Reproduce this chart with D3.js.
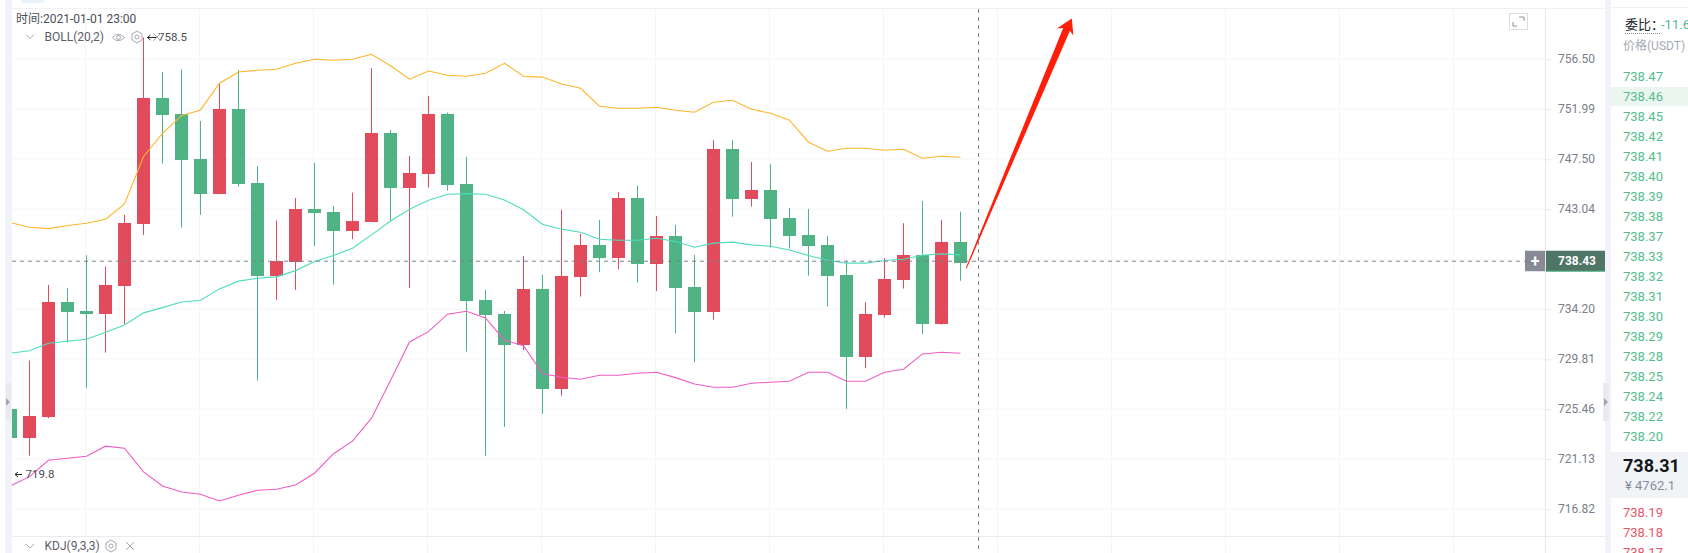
<!DOCTYPE html>
<html><head><meta charset="utf-8">
<style>html,body{margin:0;padding:0;background:#fff;overflow:hidden}svg{display:block}
text{font-family:Roboto,"Noto Sans CJK SC",sans-serif}</style>
<script src="https://cdn.jsdelivr.net/npm/d3@7"></script></head><body>
<svg id="c" width="1688" height="553"></svg>
<script>
const opens=[725.49,722.99,724.82,734.84,734.05,733.81,736.28,741.77,753.01,751.54,747.53,744.43,752.02,745.39,737.16,738.40,743.07,742.80,741.14,741.94,749.86,744.97,746.22,751.57,745.29,735.02,733.79,731.06,735.99,727.25,737.05,739.88,738.75,744.05,738.22,740.67,736.17,733.99,748.42,743.99,744.76,742.27,740.76,739.88,737.23,730.04,733.73,736.81,738.99,732.94,740.14];
const closes=[722.99,724.88,734.84,733.99,733.81,736.34,741.83,753.01,751.51,747.46,744.43,752.02,745.32,737.16,738.46,743.07,742.74,741.14,742.00,749.86,744.97,746.28,751.57,745.23,734.96,733.73,731.09,735.99,727.25,737.14,739.88,738.75,744.05,738.22,740.67,736.11,733.99,748.42,743.99,744.76,742.21,740.70,739.81,737.16,730.04,733.79,736.87,738.99,732.94,740.14,738.31];
const highs=[725.49,729.69,736.34,736.05,738.96,737.96,742.54,758.48,755.35,755.60,750.94,754.34,755.53,746.90,742.03,744.05,747.17,743.33,744.52,755.69,750.13,747.80,753.19,751.69,747.71,735.90,734.05,738.90,737.23,743.00,740.85,742.09,744.56,745.15,742.45,741.65,738.99,749.21,749.23,747.26,747.05,743.16,743.07,740.65,738.49,734.82,738.70,741.80,743.78,742.09,742.83];
const lows=[722.99,721.44,724.68,731.27,727.29,730.39,732.91,740.76,747.11,741.41,742.54,744.43,745.06,727.95,735.02,735.90,739.79,736.37,740.38,741.94,742.00,736.05,744.97,744.70,730.48,721.42,723.93,730.63,725.05,726.64,735.31,737.46,737.73,736.55,735.79,732.09,729.55,733.29,742.38,743.27,739.64,739.55,737.16,734.43,725.49,729.03,733.46,736.02,732.03,732.85,736.70];
const bollUpper=[741.85,741.44,741.32,741.59,741.80,742.15,743.51,747.73,749.82,751.41,751.93,754.34,755.35,755.51,755.60,756.14,756.50,756.41,756.50,756.95,755.92,754.70,755.44,755.06,754.97,755.24,756.14,754.97,754.89,754.27,753.88,752.26,752.08,752.08,752.17,751.90,751.72,752.62,752.80,751.99,751.63,751.00,749.03,748.22,748.49,748.49,748.31,748.40,747.59,747.77,747.68];
const bollMid=[730.34,730.55,731.22,731.39,731.56,732.18,732.82,733.88,734.34,734.84,734.99,735.99,736.67,736.93,737.05,737.60,738.40,738.93,739.58,740.76,742.00,743.04,743.84,744.38,744.43,744.38,743.87,743.00,741.71,741.27,741.00,740.38,740.29,740.29,740.47,740.17,739.67,740.03,740.12,739.88,739.76,739.43,738.93,738.52,738.26,738.26,738.49,738.61,738.96,739.08,738.99];
const bollLower=[718.83,719.63,721.04,721.22,721.39,722.26,722.08,720.04,718.83,718.31,718.11,717.54,718.03,718.46,718.54,718.91,719.92,721.61,722.69,724.68,727.95,731.33,732.23,733.76,734.02,733.44,731.48,731.00,728.56,728.24,728.07,728.42,728.42,728.59,728.68,728.21,727.66,727.37,727.37,727.72,727.81,727.90,728.68,728.68,727.90,727.90,728.68,728.94,730.28,730.42,730.34];
const priceTicks=[756.50,751.99,747.50,743.04,738.61,734.20,729.81,725.46,721.13,716.82];
const crossPrice=738.43, crossIndex=50.95;
const arrowTail=[50.3,737.8], arrowTip=[55.86,760.2];
const bidPrices=["738.47","738.46","738.45","738.42","738.41","738.40","738.39","738.38","738.37","738.33","738.32","738.31","738.30","738.29","738.28","738.25","738.24","738.22","738.20"];
const askPrices=["738.19","738.18","738.17"];

const GREEN="#4fb385",RED="#e24b5c";
const svg=d3.select("#c");
const x=d3.scaleLinear().domain([0,50]).range([10.5,960.5]);
const y=d3.scaleLog().domain([716.82,756.50]).range([509.3,59.3]);
const px=(i)=>x(i);

// background chrome
svg.append("rect").attr("x",5).attr("y",0).attr("width",7).attr("height",553).attr("fill","#f1f3f8");
svg.append("rect").attr("x",1605).attr("y",0).attr("width",6).attr("height",553).attr("fill","#f1f3f8");
svg.append("rect").attr("x",22).attr("y",0).attr("width",22).attr("height",3).attr("fill","#e8f3fb");
svg.append("line").attr("x1",12).attr("x2",1605).attr("y1",8.5).attr("y2",8.5).attr("stroke","#f0f1f4");
svg.append("line").attr("x1",1611).attr("x2",1688).attr("y1",7.5).attr("y2",7.5).attr("stroke","#f0f1f4");

// grid
const vGrid=d3.range(85.5,1546,114);
svg.append("g").selectAll("line").data(vGrid).join("line").attr("x1",d=>d).attr("x2",d=>d).attr("y1",9).attr("y2",553).attr("stroke","#f4f5f7");
svg.append("g").selectAll("line").data(priceTicks).join("line").attr("x1",12).attr("x2",1545).attr("y1",d=>Math.round(y(d))).attr("y2",d=>Math.round(y(d))).attr("stroke","#f4f5f7");
svg.append("line").attr("x1",12).attr("x2",1605).attr("y1",536.5).attr("y2",536.5).attr("stroke","#e8eaed");
svg.append("line").attr("x1",1545.5).attr("x2",1545.5).attr("y1",9).attr("y2",553).attr("stroke","#e6e8ec");

// axis
const ax=svg.append("g").attr("transform","translate(1545.5,0)").call(
  d3.axisRight(y).tickValues(priceTicks).tickSize(6).tickPadding(6.5).tickFormat(d=>d===738.61?"":d.toFixed(2)));
ax.select(".domain").remove();
ax.selectAll("line").attr("stroke","#e6e8ec");
ax.selectAll("text").attr("fill","#7a7e8a").attr("font-size",12).attr("font-family","Roboto").attr("dy","0.27em");

// candles
svg.append("defs").append("clipPath").attr("id","plot").append("rect").attr("x",12).attr("y",9).attr("width",1533).attr("height",527);
const plot=svg.append("g").attr("clip-path","url(#plot)");
const idx=d3.range(opens.length);
const col=i=>closes[i]>=opens[i]?RED:GREEN;
plot.append("g").selectAll("line").data(idx).join("line")
  .attr("x1",px).attr("x2",px).attr("y1",i=>y(highs[i])).attr("y2",i=>y(lows[i]))
  .attr("stroke",col).attr("stroke-width",1);
plot.append("g").selectAll("rect").data(idx).join("rect").attr("shape-rendering","crispEdges")
  .attr("x",i=>px(i)-6.5).attr("width",13)
  .attr("y",i=>y(Math.max(opens[i],closes[i])))
  .attr("height",i=>Math.max(2,Math.abs(y(opens[i])-y(closes[i]))))
  .attr("fill",col);

// bollinger
const ln=d3.line().x((d,i)=>x(i)).y(d=>y(d));
[[bollUpper,"#fdb62a"],[bollMid,"#4fdcbc"],[bollLower,"#ef5cc4"]].forEach(([s,c])=>{
  plot.append("path").attr("d",ln(s)).attr("fill","none").attr("stroke",c).attr("stroke-width",1.1);
});

// crosshair
svg.append("line").attr("x1",12).attr("x2",1525).attr("y1",y(crossPrice)).attr("y2",y(crossPrice)).attr("stroke","#7d828c").attr("stroke-dasharray","4,4");
svg.append("line").attr("x1",x(crossIndex)).attr("x2",x(crossIndex)).attr("y1",9).attr("y2",553).attr("stroke","#6f8294").attr("stroke-dasharray","4,4");
const cy=y(crossPrice);
svg.append("rect").attr("x",1525).attr("y",cy-10.5).attr("width",20).attr("height",20.5).attr("fill","#878a94");
svg.append("text").attr("x",1535).attr("y",cy+.5).attr("text-anchor","middle").attr("dominant-baseline","central").attr("fill","#fff").attr("font-size",16).attr("font-weight",700).text("+");
svg.append("rect").attr("x",1546).attr("y",cy-10.5).attr("width",59).attr("height",20.5).attr("fill","#4f7566");
svg.append("rect").attr("x",1546).attr("y",cy+9.5).attr("width",59).attr("height",1).attr("fill",GREEN);
svg.append("text").attr("x",1558).attr("y",cy).attr("dominant-baseline","central").attr("fill","#fff").attr("font-size",12).attr("font-weight",700).text(crossPrice.toFixed(2));

// red arrow
(function(){
  const tx=x(arrowTail[0]),ty=y(arrowTail[1]),hx=x(arrowTip[0]),hy=y(arrowTip[1]);
  const dx=hx-tx,dy=hy-ty,L=Math.hypot(dx,dy),ux=dx/L,uy=dy/L,nx=-uy,ny=ux;
  const P=(a,b)=>[tx+ux*a+nx*b,ty+uy*a+ny*b];
  const pts=[P(0,-.5),P(L-12,-4.3),P(L-15,-10),P(L,0),P(L-15,8),P(L-12,3),P(0,.5)];
  svg.append("polygon").attr("points",pts.map(p=>p.join(",")).join(" ")).attr("fill","#ff1e0a");
})();

// legend text
const T=(s,xx,yy,fs,fill,extra)=>{const t=svg.append("text").attr("x",xx).attr("y",yy).attr("font-size",fs).attr("fill",fill).attr("dominant-baseline","central").text(s);if(extra)extra(t);return t;};
T("时间:2021-01-01 23:00",16,18.5,12,"#4a4d57");
T("BOLL(20,2)",44.5,36.5,12,"#5b5e69");
T("758.5",158,36.5,11.5,"#4a4d57");
T("719.8",25.5,473.5,11.5,"#4a4d57");
T("KDJ(9,3,3)",44.5,546,12,"#5b5e69");

// chevrons and small icons
const ic=(d,sw)=>svg.append("path").attr("d",d).attr("fill","none").attr("stroke","#a6a9b3").attr("stroke-width",sw||1);
ic("M26 34.5L30 38.5L34 34.5");
ic("M26 544L30 548L34 544");
ic("M112.5 37.5Q118 31 124.5 37.5Q118 44 112.5 37.5Z");
svg.append("circle").attr("cx",118.5).attr("cy",37.5).attr("r",2).attr("fill","none").attr("stroke","#a6a9b3");
const hex=(cx,cy)=>{ic(`M${cx} ${cy-6}L${cx+5} ${cy-3}V${cy+3}L${cx} ${cy+6}L${cx-5} ${cy+3}V${cy-3}Z`);
  svg.append("circle").attr("cx",cx).attr("cy",cy).attr("r",2).attr("fill","none").attr("stroke","#a6a9b3");};
hex(137,37);hex(111,546);
ic("M153 33L161 41M161 33L153 41");
ic("M126 542L134 550M134 542L126 550");
// small value arrows beside the high/low labels
const dark=(d)=>svg.append("path").attr("d",d).attr("fill","none").attr("stroke","#23252c").attr("stroke-width",1);
dark("M147.5 37.5H156M147.5 37.5L150.5 35M147.5 37.5L150.5 40");
dark("M15 474.5H22M15 474.5L18 472M15 474.5L18 477");

// side handles
svg.append("rect").attr("x",6).attr("y",383).attr("width",5).attr("height",38).attr("fill","#e8eaee");
svg.append("path").attr("d","M6 398L10 402L6 406Z").attr("fill","#a1a4af");
svg.append("rect").attr("x",1603).attr("y",383).attr("width",6).attr("height",38).attr("fill","#e8eaee");
svg.append("path").attr("d","M1604 398L1608 402L1604 406Z").attr("fill","#a1a4af");

// expand icon
svg.append("rect").attr("x",1509.5).attr("y",13.5).attr("width",18).attr("height",16).attr("fill","#fff").attr("stroke","#dcdde1");
ic("M1513 22V26H1517M1524 17V21M1519 17H1524",1).attr("stroke","#8d909a");

// order book
T("委比：",1625,24,13,"#23252c");
T("-11.6",1661,24,13,"#57b98c");
svg.append("line").attr("x1",1625).attr("x2",1661).attr("y1",33.5).attr("y2",33.5).attr("stroke","#8a8d99").attr("stroke-dasharray","1,1");
T("价格(USDT)",1623,46,12,"#a6a9b5");
svg.append("rect").attr("x",1611).attr("y",87).attr("width",77).attr("height",19).attr("fill","#ecf6f0");
svg.append("g").selectAll("text").data(bidPrices).join("text").attr("x",1623).attr("y",(d,i)=>76.7+20*i)
  .attr("dominant-baseline","central").attr("font-size",13).attr("fill","#55bd8c").text(d=>d);
svg.append("rect").attr("x",1611).attr("y",452).attr("width",77).attr("height",46).attr("fill","#f1f3f7");
T("738.31",1623,465,18,"#14161c",t=>t.attr("font-weight",700));
T("¥ 4762.1",1625,485.7,13,"#8a8d99");
svg.append("g").selectAll("text").data(askPrices).join("text").attr("x",1623).attr("y",(d,i)=>512.7+20*i)
  .attr("dominant-baseline","central").attr("font-size",13).attr("fill","#e9586a").text(d=>d);
</script></body></html>
